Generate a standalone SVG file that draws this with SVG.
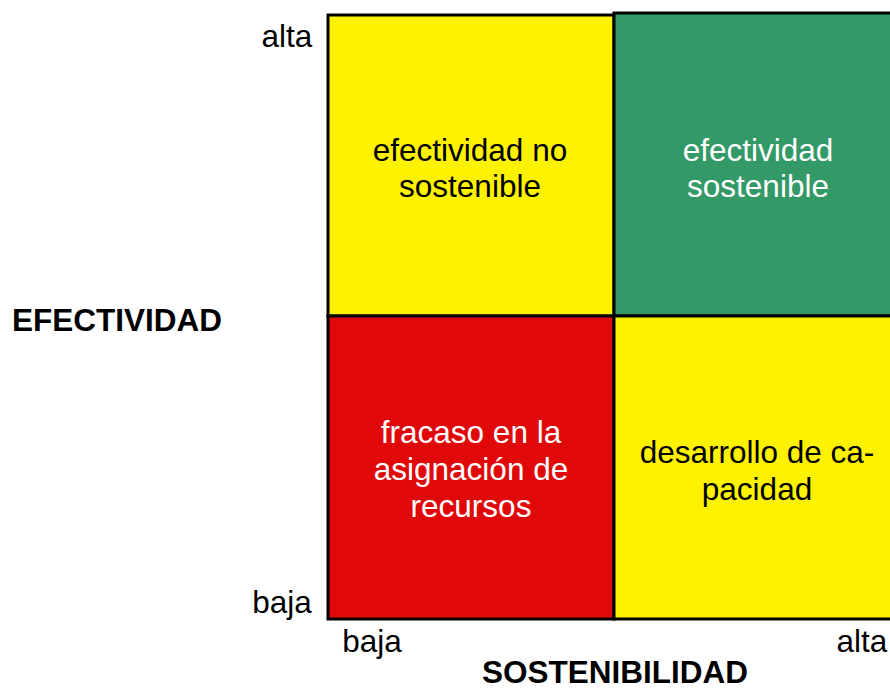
<svg xmlns="http://www.w3.org/2000/svg" width="890" height="690" viewBox="0 0 890 690">
<style>
.q{stroke:#000;stroke-width:3}
.t{font-family:"Liberation Sans",Arial,sans-serif;font-size:31.5px;text-anchor:middle}
.b{font-family:"Liberation Sans",Arial,sans-serif;font-size:31.5px;font-weight:bold;text-anchor:middle}
</style>
<rect width="890" height="690" fill="#fff"/>
<g id="q1"><rect class="q" x="328" y="15" width="286" height="301" fill="#FEF200"/>
<text class="t" x="470" y="161">efectividad no</text><text class="t" x="470" y="197">sostenible</text></g>
<g id="q2"><rect class="q" x="614" y="13" width="280" height="303" fill="#339966"/>
<text class="t" x="758" y="161" fill="#fff">efectividad</text><text class="t" x="758" y="197" fill="#fff">sostenible</text></g>
<g id="q3"><rect class="q" x="328" y="316" width="286" height="303" fill="#E00808"/>
<text class="t" x="471" y="443" fill="#fff">fracaso en la</text><text class="t" x="471" y="480" fill="#fff">asignación de</text><text class="t" x="471" y="517" fill="#fff">recursos</text></g>
<g id="q4"><rect class="q" x="614" y="316" width="280" height="303" fill="#FEF200"/>
<text class="t" x="757" y="463">desarrollo de ca-</text><text class="t" x="757" y="500">pacidad</text></g>
<g id="labels">
<text class="t" x="287" y="47">alta</text>
<text class="t" x="282" y="613">baja</text>
<text class="t" x="372" y="652">baja</text>
<text class="t" x="862" y="652">alta</text>
<text class="b" x="615" y="683">SOSTENIBILIDAD</text>
<text class="b" x="117" y="331">EFECTIVIDAD</text>
</g>
</svg>
